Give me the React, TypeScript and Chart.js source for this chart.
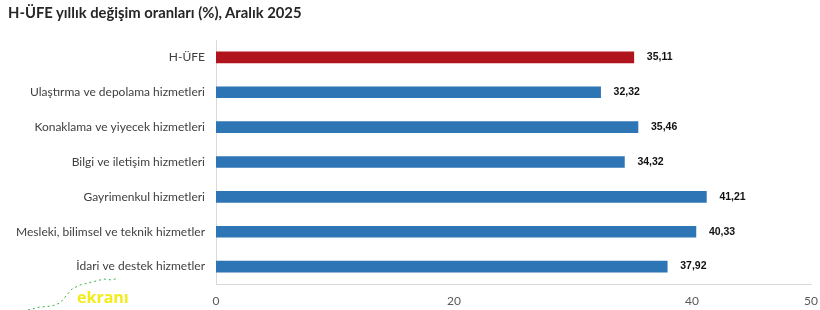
import React, { useEffect, useRef } from "react";
import { Chart, registerables } from "chart.js";

Chart.register(...registerables);

const TITLE = "H-ÜFE yıllık değişim oranları (%), Aralık 2025";
const categories = [
  "H-ÜFE",
  "Ulaştırma ve depolama hizmetleri",
  "Konaklama ve yiyecek hizmetleri",
  "Bilgi ve iletişim hizmetleri",
  "Gayrimenkul hizmetleri",
  "Mesleki, bilimsel ve teknik hizmetler",
  "İdari ve destek hizmetler",
];
const values = [35.11, 32.32, 35.46, 34.32, 41.21, 40.33, 37.92];
const xTickValues = [0, 20, 40, 50];
const RED = "#B0141C";
const BLUE = "#2E75B6";

const fmt = (v: number) => v.toFixed(2).replace(".", ",");

const labelPlugin = {
  id: "barLabels",
  afterDatasetsDraw(chart: any) {
    const ctx = chart.ctx;
    const meta = chart.getDatasetMeta(0);
    ctx.save();
    ctx.font = "bold 10.5px 'Liberation Sans', Arial, sans-serif";
    ctx.fillStyle = "#111111";
    ctx.textAlign = "left";
    ctx.textBaseline = "middle";
    meta.data.forEach((bar: any, i: number) => {
      ctx.fillText(fmt(values[i]), bar.x + 13, bar.y);
    });
    ctx.restore();
  },
};

export default function App() {
  const ref = useRef<HTMLCanvasElement | null>(null);
  useEffect(() => {
    if (!ref.current) return;
    const chart = new Chart(ref.current, {
      type: "bar",
      data: {
        labels: categories,
        datasets: [
          {
            data: values,
            backgroundColor: values.map((_, i) => (i === 0 ? RED : BLUE)),
            barThickness: 11,
            borderWidth: 0,
          },
        ],
      },
      options: {
        indexAxis: "y",
        animation: false,
        responsive: false,
        maintainAspectRatio: false,
        layout: { padding: { top: 40, right: 0, left: 0, bottom: 0 } },
        plugins: {
          legend: { display: false },
          tooltip: { enabled: false },
          title: { display: false },
        },
        scales: {
          x: {
            min: 0,
            max: 50,
            grid: { display: false, drawTicks: false },
            border: { display: true, color: "#D9D9D9", width: 1 },
            afterBuildTicks: (scale: any) => {
              scale.ticks = xTickValues.map((v) => ({ value: v }));
            },
            afterFit: (scale: any) => {
              scale.height = 26;
              scale.paddingRight = 9;
              scale.paddingLeft = 0;
            },
            ticks: {
              color: "#595959",
              padding: 10,
              font: { family: "Lato, 'Open Sans', sans-serif", size: 12 },
            },
          },
          y: {
            grid: { display: false, drawTicks: false },
            border: { display: true, color: "#D9D9D9", width: 1 },
            afterFit: (scale: any) => {
              scale.width = 216;
            },
            ticks: {
              color: "#404040",
              padding: 11,
              font: { family: "Lato, 'Open Sans', sans-serif", size: 12 },
            },
          },
        },
      },
      plugins: [labelPlugin],
    });
    return () => chart.destroy();
  }, []);

  return (
    <div style={{ position: "fixed", left: 0, top: 0, width: 820, height: 310, background: "#fff" }}>
      <canvas ref={ref} width={820} height={310} style={{ position: "absolute", left: 0, top: 0 }} />
      <div
        style={{
          position: "absolute",
          left: 8,
          top: 3,
          fontFamily: "Lato, 'Open Sans', sans-serif",
          fontWeight: 700,
          fontSize: 14.8,
          color: "#262626",
          whiteSpace: "nowrap",
        }}
      >
        {TITLE}
      </div>
      <svg width={140} height={40} style={{ position: "absolute", left: 0, top: 270 }}>
        <polyline
          points="28,40 40,37 52,36 60,33 66,26 72,19 80,15 92,12 104,9 112,10 118,8"
          fill="none"
          stroke="#3cb04a"
          strokeWidth={1}
          strokeDasharray="2 3"
        />
      </svg>
      <div
        style={{
          position: "absolute",
          left: 77,
          top: 287,
          fontFamily: "'Open Sans', sans-serif",
          fontWeight: 700,
          fontSize: 16,
          color: "#F2EC1A",
          lineHeight: "20px",
        }}
      >
        ekranı
      </div>
    </div>
  );
}
